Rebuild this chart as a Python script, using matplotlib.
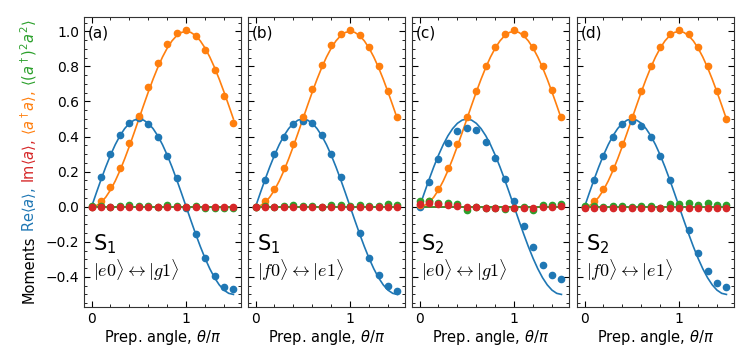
import matplotlib
matplotlib.use("Agg")
import matplotlib.pyplot as plt
from matplotlib.ticker import MultipleLocator

# measured points: theta/pi = 0, 0.1, ... 1.5
x_data = [0.0, 0.1, 0.2, 0.3, 0.4, 0.5, 0.6, 0.7, 0.8, 0.9, 1.0, 1.1, 1.2, 1.3, 1.4, 1.5]

re_a = [
    [0.0, 0.17, 0.30, 0.41, 0.48, 0.505, 0.47, 0.40, 0.29, 0.165, -0.006, -0.158, -0.29, -0.395, -0.458, -0.47],
    [0.0, 0.15, 0.30, 0.40, 0.47, 0.49, 0.48, 0.41, 0.30, 0.17, 0.0, -0.15, -0.29, -0.39, -0.45, -0.48],
    [0.0, 0.14, 0.27, 0.366, 0.43, 0.45, 0.435, 0.37, 0.28, 0.16, 0.03, -0.11, -0.23, -0.33, -0.39, -0.41],
    [0.0, 0.155, 0.29, 0.40, 0.47, 0.49, 0.46, 0.40, 0.29, 0.155, 0.0, -0.133, -0.264, -0.367, -0.433, -0.455],
]
n_a = [
    [0.0, 0.03, 0.11, 0.22, 0.365, 0.52, 0.68, 0.82, 0.926, 0.99, 1.01, 0.975, 0.896, 0.78, 0.63, 0.476],
    [0.0, 0.03, 0.10, 0.22, 0.36, 0.51, 0.67, 0.81, 0.92, 0.985, 1.005, 0.98, 0.91, 0.80, 0.66, 0.51],
    [0.007, 0.03, 0.10, 0.22, 0.355, 0.51, 0.66, 0.80, 0.91, 0.985, 1.01, 0.985, 0.91, 0.80, 0.666, 0.51],
    [0.0, 0.03, 0.10, 0.22, 0.36, 0.51, 0.66, 0.80, 0.91, 0.985, 1.005, 0.985, 0.91, 0.80, 0.66, 0.50],
]
g2 = [
    [0.005, 0.005, 0.0, 0.005, 0.01, 0.005, 0.005, 0.0, 0.01, 0.005, 0.0, 0.005, -0.005, -0.005, -0.01, -0.005],
    [0.0, 0.005, 0.0, 0.005, 0.01, 0.005, 0.005, 0.0, 0.01, 0.01, 0.005, 0.01, 0.005, 0.005, 0.015, 0.01],
    [0.03, 0.03, 0.02, 0.02, 0.015, -0.02, 0.0, -0.005, -0.01, -0.015, -0.01, 0.0, -0.02, 0.01, 0.01, 0.015],
    [0.005, 0.005, 0.0, 0.005, 0.005, 0.0, 0.005, 0.005, -0.005, 0.015, 0.015, 0.02, 0.01, 0.02, 0.01, 0.01],
]
im_a = [
    [0.0, 0.0, 0.0, 0.0, 0.0, 0.0, 0.0, 0.0, 0.0, 0.0, 0.0, 0.0, 0.0, 0.0, 0.0, 0.0],
    [0.0, 0.0, 0.0, 0.0, 0.0, 0.0, 0.0, 0.0, 0.0, 0.0, 0.0, 0.0, 0.0, 0.0, 0.0, 0.0],
    [0.015, 0.02, 0.015, 0.01, 0.005, 0.0, 0.0, -0.005, -0.005, -0.005, -0.005, -0.005, -0.005, 0.0, 0.0, 0.005],
    [-0.01, -0.01, -0.01, -0.005, -0.005, -0.005, -0.005, -0.005, -0.005, -0.005, -0.005, -0.01, -0.01, -0.01, -0.01, -0.01],
]

# theory curves, theta/pi = 0 ... 1.5 in steps of 0.05
x_th = [0.0, 0.05, 0.1, 0.15, 0.2, 0.25, 0.3, 0.35, 0.4, 0.45, 0.5, 0.55, 0.6, 0.65, 0.7, 0.75,
        0.8, 0.85, 0.9, 0.95, 1.0, 1.05, 1.1, 1.15, 1.2, 1.25, 1.3, 1.35, 1.4, 1.45, 1.5]
re_th = [0.0, 0.0782, 0.1545, 0.2270, 0.2939, 0.3536, 0.4045, 0.4455, 0.4755, 0.4938, 0.5,
         0.4938, 0.4755, 0.4455, 0.4045, 0.3536, 0.2939, 0.2270, 0.1545, 0.0782, 0.0,
         -0.0782, -0.1545, -0.2270, -0.2939, -0.3536, -0.4045, -0.4455, -0.4755, -0.4938, -0.5]
n_th = [0.0, 0.0062, 0.0245, 0.0545, 0.0955, 0.1464, 0.2061, 0.2730, 0.3455, 0.4218, 0.5,
        0.5782, 0.6545, 0.7270, 0.7939, 0.8536, 0.9045, 0.9455, 0.9755, 0.9938, 1.0,
        0.9938, 0.9755, 0.9455, 0.9045, 0.8536, 0.7939, 0.7270, 0.6545, 0.5782, 0.5]
zero_th = [0.0] * len(x_th)

panel_tags = ["(a)", "(b)", "(c)", "(d)"]
sweet_spots = [r"S$_1$", r"S$_1$", r"S$_2$", r"S$_2$"]
transitions = [r"$|e0\rangle \leftrightarrow |g1\rangle$", r"$|f0\rangle \leftrightarrow |e1\rangle$",
               r"$|e0\rangle \leftrightarrow |g1\rangle$", r"$|f0\rangle \leftrightarrow |e1\rangle$"]

c_blue, c_orange, c_green, c_red = "#1f77b4", "#ff7f0e", "#2ca02c", "#d62728"

W, H = 747, 352
fig = plt.figure(figsize=(W / 100, H / 100), dpi=100)
lefts = [84, 248, 412, 577]
for i, left in enumerate(lefts):
    ax = fig.add_axes([left / W, 45.3 / H, 157 / W, 289.4 / H])
    ax.plot(x_th, re_th, color=c_blue, lw=1.2)
    ax.plot(x_th, n_th, color=c_orange, lw=1.2)
    ax.plot(x_th, zero_th, color=c_red, lw=1.2)
    ax.plot(x_th, zero_th, color=c_green, lw=1.2)
    ax.plot(x_data, re_a[i], "o", color=c_blue, ms=4.5)
    ax.plot(x_data, n_a[i], "o", color=c_orange, ms=4.5)
    ax.plot(x_data, g2[i], "o", color=c_green, ms=4.5)
    ax.plot(x_data, im_a[i], "o", color=c_red, ms=4.5)
    ax.set_xlim(-0.08, 1.58)
    ax.set_ylim(-0.57, 1.08)
    ax.xaxis.set_major_locator(MultipleLocator(1))
    ax.xaxis.set_minor_locator(MultipleLocator(0.2))
    ax.yaxis.set_major_locator(MultipleLocator(0.2))
    ax.yaxis.set_minor_locator(MultipleLocator(0.05))
    ax.tick_params(which="both", direction="in", top=True, right=True, labelsize=10)
    ax.tick_params(which="major", length=4)
    ax.tick_params(which="minor", length=2)
    if i > 0:
        ax.tick_params(labelleft=False)
    for s in ax.spines.values():
        s.set_color("#333333")
    ax.set_xlabel(r"Prep. angle, $\theta/\pi$", fontsize=10.5, labelpad=2)
    ax.text(0.025, 0.97, panel_tags[i], transform=ax.transAxes, fontsize=11, va="top", ha="left")
    ax.text(0.06, 0.215, sweet_spots[i], transform=ax.transAxes, fontsize=15, va="center", ha="left")
    ax.text(0.06, 0.125, transitions[i], transform=ax.transAxes, fontsize=13, va="center", ha="left",
            math_fontfamily="cm")

# multicoloured y label, built piece by piece from the bottom up
pieces = [("Moments", "black"), (r"Re$\langle a\rangle$,", c_blue), (r"Im$\langle a\rangle$,", c_red),
          (r"$\langle a^\dagger a\rangle$,", c_orange), (r"$\langle (a^\dagger)^2 a^2\rangle$", c_green)]
renderer = fig.canvas.get_renderer()
y_px = 49
for txt, col in pieces:
    t = fig.text(29 / W, y_px / H, txt, color=col, rotation=90, fontsize=10.5, ha="center", va="bottom")
    bb = t.get_window_extent(renderer)
    y_px += bb.height + 4

fig.savefig("out.png", dpi=100)
